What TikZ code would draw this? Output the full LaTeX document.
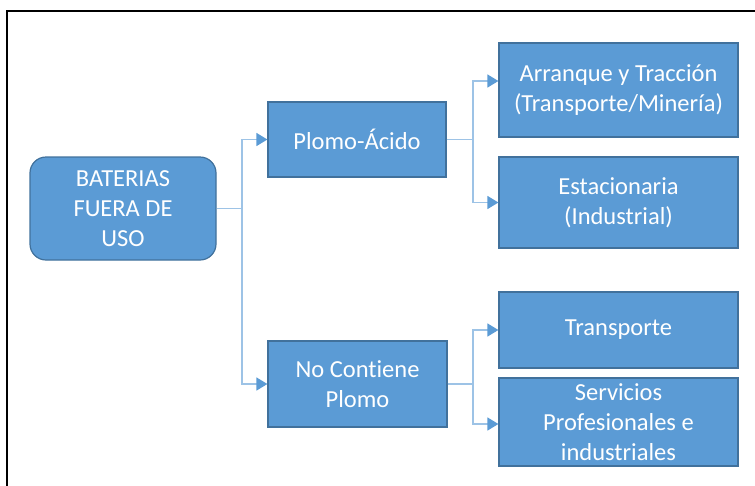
\documentclass[tikz,border=0pt]{standalone}
\usepackage{fontspec}
\setmainfont{Carlito}[Ligatures=NoCommon]
\usetikzlibrary{arrows.meta}
\definecolor{boxblue}{HTML}{5B9BD5}
\definecolor{edgeblue}{HTML}{41719C}
\definecolor{lineblue}{HTML}{9DC3E6}

\begin{document}
\begin{tikzpicture}[
        x=1pt, y=1pt,
        box/.style={
          draw = edgeblue,
          fill = boxblue,
          line width = 1.2pt,
          text = white,
          align = center,
          inner sep = 0pt,
          font = \fontsize{24.5}{30}\selectfont,
        },
        rootbox/.style={
          box,
          rounded corners = 16pt,
        },
        conn/.style={
          draw = lineblue,
          line width = 1.4pt,
          -{Triangle[length=11pt, width=13pt, color=boxblue]},
        },
        ]
        \useasboundingbox (0,0) rectangle (755,-485);
        % frame, cut by the page on the right and at the bottom
        \draw [line width=2.2pt] (7,-490) -- (7,-11) -- (760,-11);

        \node [rootbox, minimum width=186pt, minimum height=103pt] (root)
          at (123,-208.5) {BATERIAS\\FUERA DE\\USO};

        \node [box, minimum width=178pt, minimum height=75pt] (plomo)
          at (357,-139.5) {Plomo-Ácido};
        \node [box, minimum width=179pt, minimum height=86pt] (nocont)
          at (357.5,-384) {No Contiene\\Plomo};

        \node [box, minimum width=239pt, minimum height=94pt] (arranque)
          at (618.5,-90) {Arranque y Tracción\\(Transporte/Minería)};
        \node [box, minimum width=239pt, minimum height=91pt] (estac)
          at (618.5,-202.5) {Estacionaria\\(Industrial)};
        \node [box, minimum width=239pt, minimum height=76pt] (transp)
          at (618.5,-330) {Transporte};
        \node [box, minimum width=239pt, minimum height=88pt] (serv)
          at (618.5,-422) {Servicios\\Profesionales e\\industriales};

        % first split
        \coordinate (split1) at (242,-208.5);
        \draw [draw=lineblue, line width=1.4pt] (root.east) -- (split1);
        \draw [conn] (split1) |- (plomo.west);
        \draw [conn] (split1) |- (nocont.west);

        % second split
        \coordinate (split2) at (473,-139.5);
        \draw [draw=lineblue, line width=1.4pt] (plomo.east) -- (split2);
        \draw [conn] (split2) |- ([yshift=9pt]arranque.west);
        \draw [conn] (split2) |- (estac.west);

        \coordinate (split3) at (473,-384);
        \draw [draw=lineblue, line width=1.4pt] (nocont.east) -- (split3);
        \draw [conn] (split3) |- (transp.west);
        \draw [conn] (split3) |- ([yshift=-2pt]serv.west);
      \end{tikzpicture}
\end{document}
